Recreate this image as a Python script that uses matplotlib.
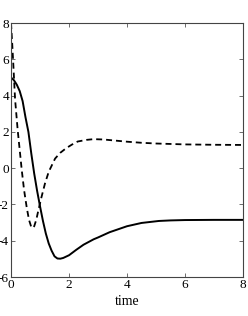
import numpy as np
import matplotlib
matplotlib.use("Agg")
from matplotlib import pyplot as plt

# values
t_solid = [0, 0.1, 0.2, 0.3, 0.4, 0.5, 0.6, 0.7, 0.8, 0.9, 1.0, 1.1, 1.2, 1.3,
           1.4, 1.5, 1.6, 1.7, 1.8, 2.0, 2.25, 2.5, 2.85, 3.0, 3.4, 4.0, 4.5,
           5.1, 5.5, 6.0, 7.0, 8.0]
y_solid = [5.0, 4.85, 4.6, 4.25, 3.7, 2.8, 2.0, 0.8, -0.3, -1.25, -2.1, -2.9,
           -3.6, -4.15, -4.55, -4.86, -4.98, -4.99, -4.95, -4.8, -4.5, -4.22,
           -3.92, -3.82, -3.53, -3.2, -3.02, -2.91, -2.88, -2.86, -2.85, -2.85]

t_dash = [0, 0.04, 0.08, 0.14, 0.23, 0.3, 0.37, 0.45, 0.54, 0.62, 0.7, 0.75,
          0.8, 0.87, 0.94, 1.05, 1.17, 1.3, 1.52, 1.7, 1.9, 2.1, 2.3, 2.6,
          2.85, 3.2, 3.6, 4.0, 4.5, 5.0, 6.0, 7.0, 8.0]
y_dash = [8.0, 6.9, 5.7, 3.8, 2.1, 1.0, -0.1, -1.2, -2.15, -2.85, -3.25, -3.3,
          -3.2, -2.85, -2.35, -1.6, -0.85, -0.2, 0.53, 0.85, 1.1, 1.3, 1.47,
          1.56, 1.6, 1.58, 1.52, 1.46, 1.4, 1.36, 1.31, 1.29, 1.28]

xticks = [0, 2, 4, 6, 8]
yticks = [-6, -4, -2, 0, 2, 4, 6, 8]

plt.rcParams["font.family"] = ["Liberation Serif", "DejaVu Serif"]
plt.rcParams["axes.unicode_minus"] = False

fig = plt.figure(figsize=(2.48, 3.16), dpi=100)
ax = fig.add_axes([0.0444, 0.1234, 0.9356, 0.8036])

ax.plot(t_solid, y_solid, color="black", lw=1.4)
ax.plot(t_dash, y_dash, color="black", lw=1.3, linestyle=(0, (3.3, 2.2)))

ax.set_xlim(0, 8)
ax.set_ylim(-6, 8)
ax.set_xticks(xticks)
ax.set_yticks(yticks)
ax.tick_params(direction="in", top=True, right=True, length=3, width=0.6,
               labelsize=9.5, pad=1.5, color="#555555")
for s in ax.spines.values():
    s.set_linewidth(0.8)
    s.set_color("#444444")
ax.set_xlabel("time", fontsize=10, labelpad=2.5)

fig.savefig("out.png", dpi=100)
plt.close(fig)
